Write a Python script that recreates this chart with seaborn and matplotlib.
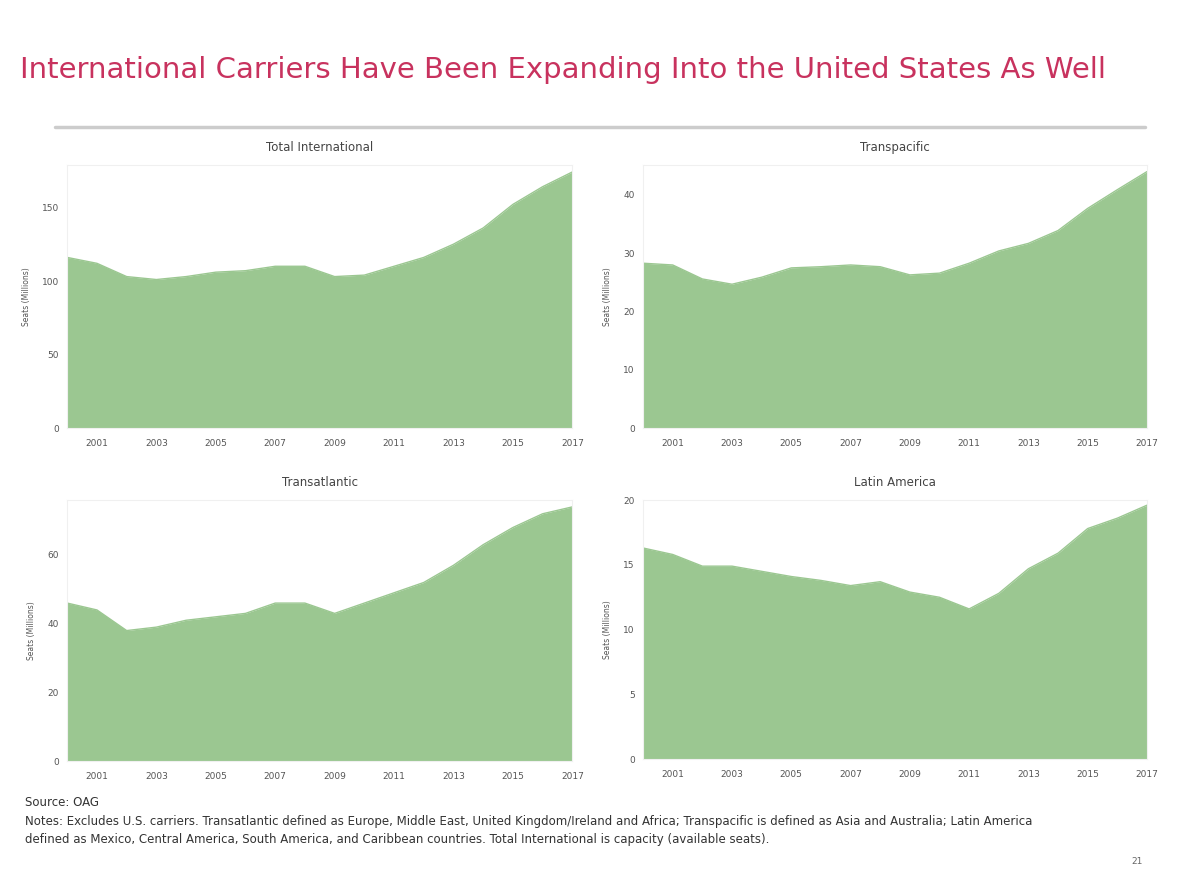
import matplotlib
matplotlib.use("Agg")
import matplotlib.pyplot as plt
import seaborn as sns
import pandas as pd

# Annual seat capacity of foreign carriers to/from the US
years = list(range(2000, 2018))

total_intl = [116, 112, 103, 101, 103, 106, 107, 110, 110, 103, 104, 110, 116, 125, 136, 152, 164, 174]
transpacific = [28.3, 28.0, 25.6, 24.7, 25.9, 27.5, 27.7, 28.0, 27.7, 26.3, 26.6, 28.3, 30.4, 31.7, 33.9, 37.7, 40.9, 44.0]
transatlantic = [46, 44, 38, 39, 41, 42, 43, 46, 46, 43, 46, 49, 52, 57, 63, 68, 72, 74]
latin_america = [16.3, 15.8, 14.9, 14.9, 14.5, 14.1, 13.8, 13.4, 13.7, 12.9, 12.5, 11.6, 12.8, 14.7, 15.9, 17.8, 18.6, 19.6]

panel_titles = ["Total International", "Transpacific", "Transatlantic", "Latin America"]
panel_ticks = [[0, 50, 100, 150], [0, 10, 20, 30, 40], [0, 20, 40, 60], [0, 5, 10, 15, 20]]
panel_ylim = [179, 45.2, 76, 20]
year_ticks = list(range(2001, 2018, 2))

ylabel = "Seats (Millions)"
title = "International Carriers Have Been Expanding Into the United States As Well"
source = "Source: OAG"
notes = [
    "Notes: Excludes U.S. carriers. Transatlantic defined as Europe, Middle East, United Kingdom/Ireland and Africa; Transpacific is defined as Asia and Australia; Latin America",
    "defined as Mexico, Central America, South America, and Caribbean countries. Total International is capacity (available seats).",
]

df = pd.DataFrame({
    "year": years * 4,
    "region": sum([[t] * len(years) for t in panel_titles], []),
    "seats": total_intl + transpacific + transatlantic + latin_america,
})

sns.set_theme(style="white")
plt.rcParams["font.family"] = ["DejaVu Sans"]

green = "#9bc791"
grey_txt = "#555555"

fig = plt.figure(figsize=(11.8, 8.85), dpi=100)

# axes boxes in figure fractions (left, bottom, width, height)
boxes = [
    (0.057, 0.516, 0.428, 0.298),
    (0.545, 0.516, 0.427, 0.298),
    (0.057, 0.140, 0.428, 0.295),
    (0.545, 0.142, 0.427, 0.293),
]

for i, name in enumerate(panel_titles):
    ax = fig.add_axes(boxes[i])
    sub = df[df["region"] == name]
    ax.fill_between(sub["year"], 0, sub["seats"], color=green, linewidth=0)
    sns.lineplot(data=sub, x="year", y="seats", ax=ax, color=green, linewidth=1)
    ax.set_xlim(2000, 2017)
    ax.set_ylim(0, panel_ylim[i])
    ax.set_yticks(panel_ticks[i])
    ax.set_xticks(year_ticks)
    ax.tick_params(axis="both", labelsize=6.5, colors=grey_txt, length=0)
    ax.tick_params(axis="x", pad=8)
    ax.tick_params(axis="y", pad=6)
    ax.set_xlabel("")
    ax.set_ylabel(ylabel, fontsize=5.5, color=grey_txt, labelpad=8)
    ax.set_title(name, fontsize=8.5, color="#444444", pad=10)
    for s in ax.spines.values():
        s.set_color("#f0f0f0")
        s.set_linewidth(0.8)

fig.text(0.017, 0.921, title, fontsize=21, color="#c8325e", va="center", ha="left")
fig.add_artist(plt.Line2D([0.047, 0.970], [0.856, 0.856], color="#cccccc", linewidth=2.5,
                          transform=fig.transFigure))

fig.text(0.021, 0.093, source, fontsize=8.5, color="#333333", va="center")
fig.text(0.021, 0.072, notes[0], fontsize=8.5, color="#333333", va="center")
fig.text(0.021, 0.051, notes[1], fontsize=8.5, color="#333333", va="center")
fig.text(0.968, 0.027, "21", fontsize=6.5, color="#666666", va="center", ha="right")

fig.savefig("out.png", dpi=100, facecolor="white")
